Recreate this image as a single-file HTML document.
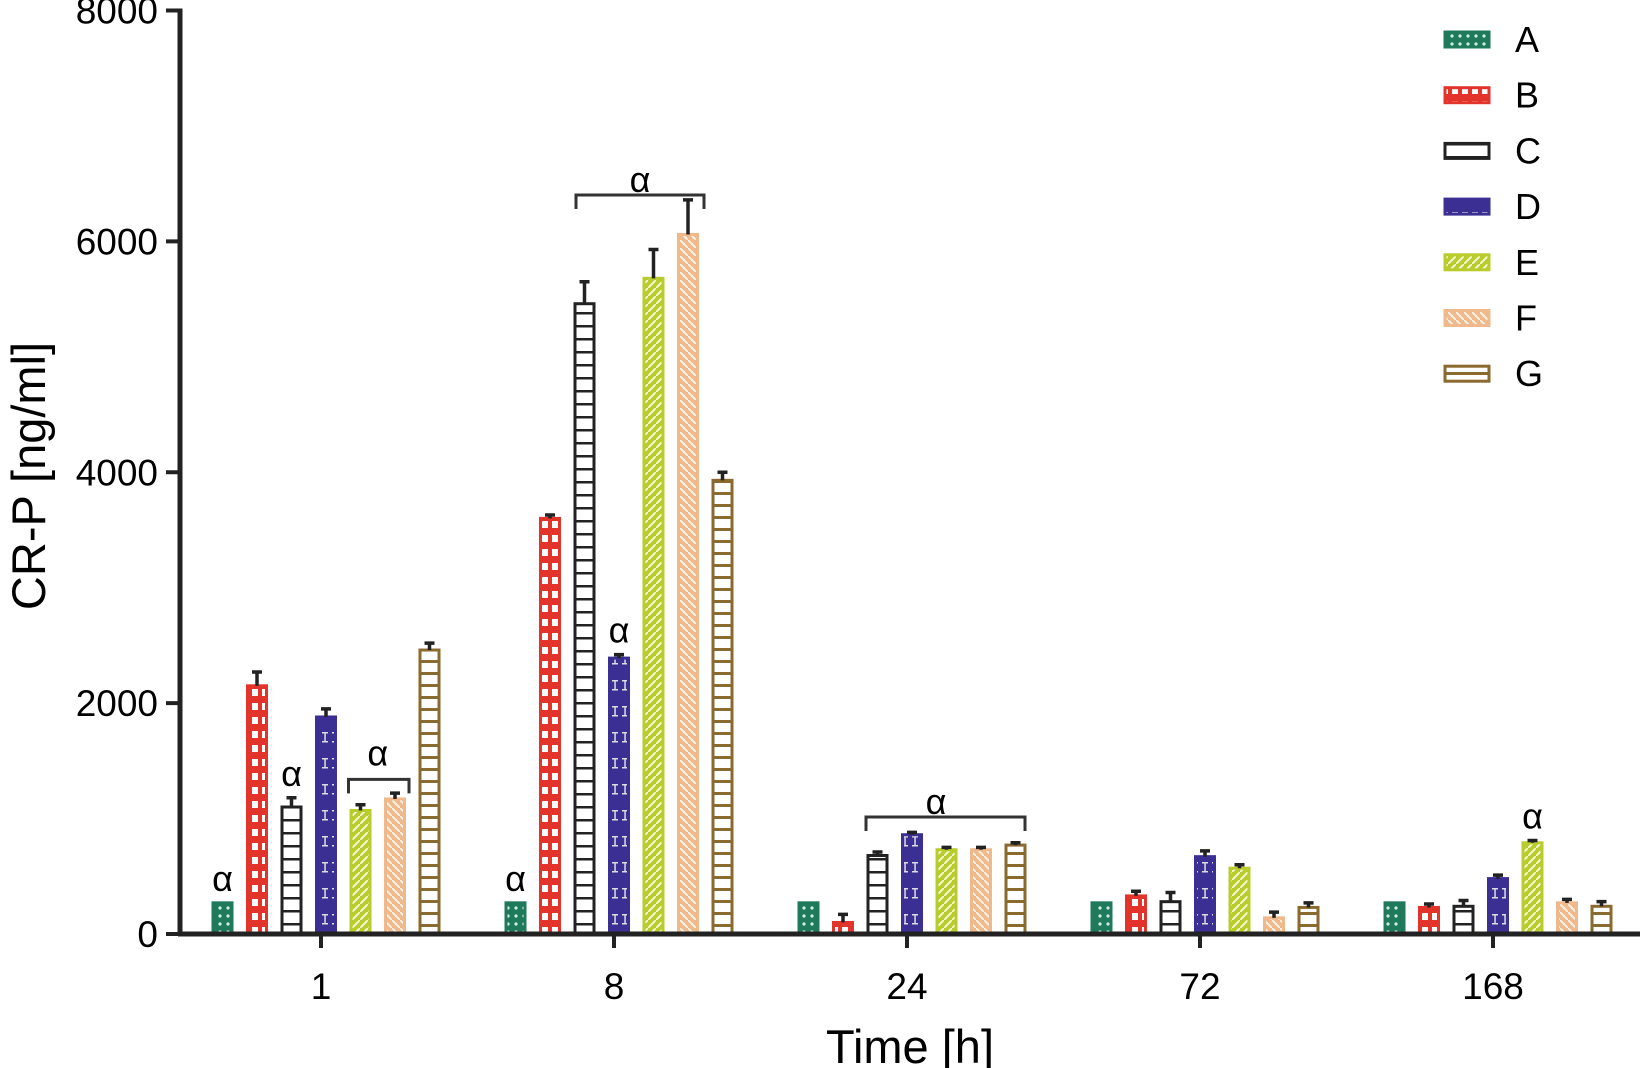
<!DOCTYPE html>
<html><head><meta charset="utf-8"><style>
html,body{margin:0;padding:0;background:#fff;}
svg{display:block;font-family:"Liberation Sans",sans-serif;}
</style></head><body>
<svg id="chart" width="1645" height="1068" viewBox="0 0 1645 1068" xmlns="http://www.w3.org/2000/svg">
<defs>
<pattern id="pA" width="8" height="8" patternUnits="userSpaceOnUse"><rect width="8" height="8" fill="#1f7a5c"/><circle cx="4" cy="4" r="1.6" fill="#cfeee0"/></pattern>
<pattern id="pB" width="10" height="14" patternUnits="userSpaceOnUse"><rect width="10" height="14" fill="#e3342b"/><rect x="2" y="3" width="6" height="7" fill="#fff"/></pattern>
<pattern id="pC" width="10" height="13" patternUnits="userSpaceOnUse"><rect width="10" height="13" fill="#fff"/><rect y="0" width="10" height="2.5" fill="#222"/></pattern>
<pattern id="pD" width="10" height="26" patternUnits="userSpaceOnUse"><rect width="10" height="26" fill="#3b2f93"/><rect x="2" y="4" width="6" height="1.5" fill="#ddd"/><rect x="4.3" y="4" width="1.5" height="10" fill="#ddd"/><rect x="2" y="13" width="6" height="1.5" fill="#ddd"/></pattern>
<pattern id="pE" width="8" height="8" patternUnits="userSpaceOnUse"><rect width="8" height="8" fill="#b8cc2c"/><path d="M0 8 L8 0" stroke="#f5f8d8" stroke-width="2"/></pattern>
<pattern id="pF" width="8" height="8" patternUnits="userSpaceOnUse"><rect width="8" height="8" fill="#f0b98c"/><path d="M0 0 L8 8" stroke="#fff2e6" stroke-width="2"/></pattern>
<pattern id="pG" width="10" height="12" patternUnits="userSpaceOnUse"><rect width="10" height="12" fill="#fff"/><rect width="10" height="3" fill="#8a6a2e"/></pattern>
</defs>
<g id="plot"></g>
</svg>
<script>
const categories = ["1","8","24","72","168"];
const seriesNames = ["A","B","C","D","E","F","G"];
const valA = [270,270,270,270,270];
const valB = [2150,3600,100,330,230];
const valC = [1100,5460,680,280,240];
const valD = [1880,2390,860,670,480];
const valE = [1070,5680,730,570,790];
const valF = [1170,6060,730,140,270];
const valG = [2460,3930,770,230,240];
const errA = [0,0,0,0,0];
const errB = [120,30,70,40,30];
const errC = [80,190,30,80,50];
const errD = [70,30,20,50,30];
const errE = [50,250,20,30,20];
const errF = [50,300,20,50,30];
const errG = [60,70,20,40,40];
const yTicks = [0,2000,4000,6000,8000];

const series=[valA,valB,valC,valD,valE,valF,valG];
const errs=[errA,errB,errC,errD,errE,errF,errG];
const fills=["url(#pA)","url(#pB)","url(#pC)","url(#pD)","url(#pE)","url(#pF)","url(#pG)"];
const strokes=["#1f7a5c","#e3342b","#222","#3b2f93","#b8cc2c","#f0b98c","#8a6a2e"];
const x0=180, x1=1640, y0=934, yTop=10.5, yMax=8000;
function y(v){return y0-(v/yMax)*(y0-yTop);}
function catX(i){return 321+i*293;}
function barX(ci,si){return catX(ci)+5+(si-3)*34.5;}
const NS="http://www.w3.org/2000/svg";
const g=document.getElementById('plot');
function mk(tag,attrs,parent){const e=document.createElementNS(NS,tag);for(const k in attrs)e.setAttribute(k,attrs[k]);(parent||g).appendChild(e);return e;}
function txt(s,attrs){const e=mk('text',attrs);e.textContent=s;return e;}

series.forEach((vals,si)=>{vals.forEach((v,ci)=>{
  const cx=barX(ci,si), w=19;
  const r=mk('rect',{x:cx-w/2,y:y(v),width:w,height:y0-y(v),fill:fills[si],stroke:strokes[si],'stroke-width':3});
  
  
  const e=errs[si][ci];
  if(e>0){
    const l=mk('path',{d:`M${cx} ${y(v)} V${y(v+e)} M${cx-5} ${y(v+e)} H${cx+5}`,stroke:'#222','stroke-width':3.5,fill:'none'});
    
    
  }
});});

const ya=mk('path',{d:`M${x0} ${y0+2} V${yTop-2}`,stroke:'#222','stroke-width':5});


const xa=mk('path',{d:`M${x0-2} ${y0} H${x1}`,stroke:'#222','stroke-width':5});


yTicks.forEach(t=>{
  mk('path',{d:`M${x0-14} ${y(t)} H${x0}`,stroke:'#222','stroke-width':4});
  const l=txt(String(t),{x:x0-22,y:y(t)+13,'font-size':37,'text-anchor':'end',fill:'#000'});
  
  
});
categories.forEach((c,i)=>{
  mk('path',{d:`M${catX(i)} ${y0} V${y0+14}`,stroke:'#222','stroke-width':4});
  const l=txt(c,{x:catX(i),y:999,'font-size':37,'text-anchor':'middle',fill:'#000'});
  
  
});
const xt=txt('Time [h]',{x:910,y:1063,'font-size':47,'text-anchor':'middle',fill:'#000'});


const yt=txt('CR-P [ng/ml]',{x:0,y:0,'font-size':47,'text-anchor':'middle',fill:'#000',transform:'translate(45,476) rotate(-90)'});



function alpha(x,yy){const a=txt('α',{x:x,y:yy,'font-size':36,'text-anchor':'middle',fill:'#000'});}
function bracket(xa,xb,yy){const b=mk('path',{d:`M${xa} ${yy+14} V${yy} H${xb} V${yy+14}`,stroke:'#333','stroke-width':3,fill:'none'});}
alpha(barX(0,0),y(valA[0])-12);
alpha(barX(0,2),y(valC[0]+errC[0])-12);
bracket(barX(0,4)-12,barX(0,5)+14,y(1340));alpha((barX(0,4)+barX(0,5))/2,y(1340)-14);
alpha(barX(1,0),y(valA[1])-12);
alpha(barX(1,3),y(valD[1]+errD[1])-12);
bracket(576,704,195);alpha(640,192);
bracket(866,1025,817);alpha(936,814);
alpha(barX(4,4),y(valE[4]+errE[4])-12);

seriesNames.forEach((n,i)=>{
  const yy=39+i*55.7;
  const s=mk('rect',{x:1445,y:yy-7,width:44,height:15,fill:fills[i],stroke:strokes[i],'stroke-width':3});
  
  
  const l=txt(n,{x:1515,y:yy+13,'font-size':36,fill:'#000'});
  
  
});
</script>
</body></html>
